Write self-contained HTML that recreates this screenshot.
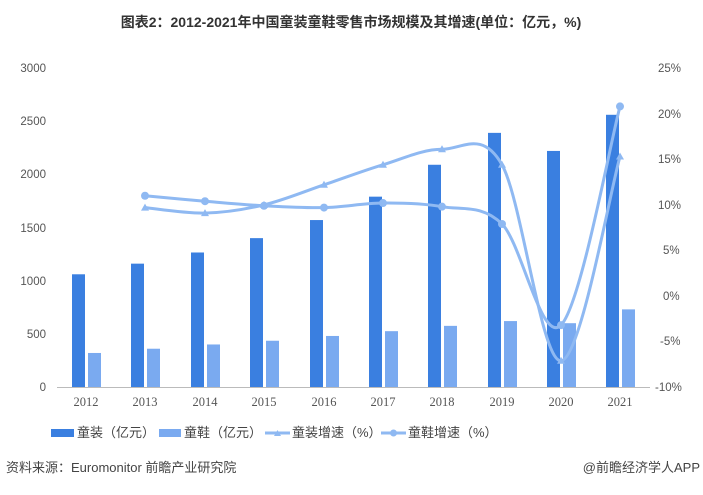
<!DOCTYPE html>
<html><head><meta charset="utf-8"><style>
body{margin:0;background:#fff;width:703px;height:490px;overflow:hidden}
svg text{font-family:"Liberation Sans","Noto Sans CJK SC",sans-serif}
svg text.yr{font-family:"Liberation Serif","Noto Serif CJK SC",serif}
</style></head><body>
<svg width="703" height="490" xmlns="http://www.w3.org/2000/svg">
<text x="351" y="27" text-anchor="middle" font-size="14" font-weight="bold" fill="#333">图表2：2012-2021年中国童装童鞋零售市场规模及其增速(单位：亿元，%)</text>
<g font-size="11.5" fill="#555">
<text x="46" y="72" text-anchor="end">3000</text>
<text x="46" y="125" text-anchor="end">2500</text>
<text x="46" y="178" text-anchor="end">2000</text>
<text x="46" y="232" text-anchor="end">1500</text>
<text x="46" y="285" text-anchor="end">1000</text>
<text x="46" y="338" text-anchor="end">500</text>
<text x="46" y="391" text-anchor="end">0</text>
<text x="658" y="72">25%</text>
<text x="658" y="118">20%</text>
<text x="658" y="163">15%</text>
<text x="658" y="209">10%</text>
<text x="663" y="254">5%</text>
<text x="663" y="300">0%</text>
<text x="660" y="345">-5%</text>
<text x="655" y="391">-10%</text>
<g text-anchor="middle" font-size="12.5">
<text class="yr" x="86" y="406">2012</text><text class="yr" x="145" y="406">2013</text><text class="yr" x="205" y="406">2014</text><text class="yr" x="264" y="406">2015</text><text class="yr" x="324" y="406">2016</text><text class="yr" x="383" y="406">2017</text><text class="yr" x="442" y="406">2018</text><text class="yr" x="502" y="406">2019</text><text class="yr" x="561" y="406">2020</text><text class="yr" x="620" y="406">2021</text>
</g></g>
<line x1="57" y1="387.5" x2="650" y2="387.5" stroke="#bbb"/>
<g id="bars"></g>
<path id="l1" fill="none" stroke="#8fb9f2" stroke-width="3"/>
<path id="l2" fill="none" stroke="#8fb9f2" stroke-width="3"/>
<g id="mk"></g>
<g font-size="13" fill="#444">
<rect x="51" y="429" width="23" height="8" fill="#3a7fe0"/><text x="77" y="437">童装（亿元）</text>
<rect x="159" y="429" width="22" height="8" fill="#7aaaf0"/><text x="184" y="437">童鞋（亿元）</text>
<line x1="265" y1="433" x2="290" y2="433" stroke="#8fb9f2" stroke-width="3"/><path d="M277.5 430 L281 436 L274 436Z" fill="#8fb9f2"/><text x="292" y="437">童装增速（%）</text>
<line x1="381" y1="433" x2="406" y2="433" stroke="#8fb9f2" stroke-width="3"/><circle cx="393.5" cy="433" r="3.5" fill="#8fb9f2"/><text x="408" y="437">童鞋增速（%）</text>
<text x="6" y="472">资料来源：Euromonitor 前瞻产业研究院</text>
<text x="700" y="472" text-anchor="end">@前瞻经济学人APP</text>
</g>
</svg>
<script>
var xs=[86,145,205,264,324,383,442,502,561,620];
var a=[1060,1160,1265,1400,1570,1790,2090,2390,2220,2560];
var b=[320,360,400,435,480,525,575,620,600,730];
var ga=[9.7,9.1,10.0,12.2,14.4,16.1,14.4,-7.1,15.3];
var gb=[11.0,10.4,9.9,9.7,10.2,9.8,7.9,-3.2,20.8];
function Y(v){return 387-v*319/3000}
function R(v){return 296-v*9.114}
var h='';
for(var i=0;i<10;i++){h+='<rect x="'+(xs[i]-14)+'" y="'+Y(a[i])+'" width="13" height="'+(387-Y(a[i]))+'" fill="#3a7fe0"/>';
h+='<rect x="'+(xs[i]+2)+'" y="'+Y(b[i])+'" width="13" height="'+(387-Y(b[i]))+'" fill="#7aaaf0"/>';}
document.getElementById('bars').innerHTML=h;
function path(g){var p=[];for(var i=0;i<g.length;i++)p.push([xs[i+1],R(g[i])]);
var d='M'+p[0][0]+' '+p[0][1];
for(var i=0;i<p.length-1;i++){var p0=p[i-1]||p[i],p1=p[i],p2=p[i+1],p3=p[i+2]||p2;
d+=' C'+(p1[0]+(p2[0]-p0[0])/6)+' '+(p1[1]+(p2[1]-p0[1])/6)+' '+(p2[0]-(p3[0]-p1[0])/6)+' '+(p2[1]-(p3[1]-p1[1])/6)+' '+p2[0]+' '+p2[1];}
return [d,p];}
var A=path(ga),B=path(gb);
document.getElementById('l1').setAttribute('d',A[0]);
document.getElementById('l2').setAttribute('d',B[0]);
var m='';
A[1].forEach(function(q){m+='<path d="M'+q[0]+' '+(q[1]-4)+' L'+(q[0]+4)+' '+(q[1]+3)+' L'+(q[0]-4)+' '+(q[1]+3)+'Z" fill="#8fb9f2"/>';});
B[1].forEach(function(q){m+='<circle cx="'+q[0]+'" cy="'+q[1]+'" r="4" fill="#8fb9f2"/>';});
document.getElementById('mk').innerHTML=m;
</script>
</body></html>
